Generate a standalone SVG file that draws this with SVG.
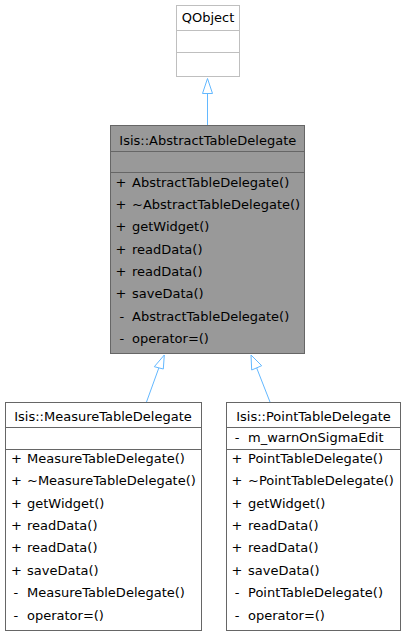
<svg xmlns="http://www.w3.org/2000/svg" width="406" height="636" viewBox="0 0 406 636">
<defs>
<style>
text{font-family:"DejaVu Sans",sans-serif;font-size:13px;fill:#000}
.t{text-anchor:middle}
.box{fill:#fff;stroke:#666;stroke-width:1}
.e{fill:none;stroke:#63b8ff;stroke-width:1}
.ah{fill:#fff;stroke:#63b8ff;stroke-width:1}
</style>
</defs>
<g id="edges">
<line class="e" x1="207.5" y1="93" x2="207.5" y2="125.5"/>
<polygon class="ah" points="207.5,78.5 202.5,93.5 212.5,93.5"/>
<line class="e" x1="146.5" y1="402" x2="158.8" y2="368"/>
<polygon class="ah" points="164.3,355 154.3,366.7 163.3,369"/>
<line class="e" x1="270" y1="402" x2="256.7" y2="368"/>
<polygon class="ah" points="251,355 251.7,370 261.7,365.7"/>
</g>
<g id="QObject">
<rect x="176.5" y="5.5" width="63" height="71" fill="#fff" stroke="#bfbfbf"/>
<line x1="176.5" y1="30.5" x2="239.5" y2="30.5" stroke="#bfbfbf"/>
<line x1="176.5" y1="52.5" x2="239.5" y2="52.5" stroke="#bfbfbf"/>
<text class="t" x="208" y="22">QObject</text>
</g>
<g id="AbstractTableDelegate">
<rect x="110.5" y="125.5" width="194" height="228" fill="#999" stroke="#666"/>
<line x1="110.5" y1="151.5" x2="304.5" y2="151.5" stroke="#666"/>
<line x1="110.5" y1="172.5" x2="304.5" y2="172.5" stroke="#666"/>
<text class="t" x="207.8" y="145">Isis::AbstractTableDelegate</text>
<text x="115.5" y="187">+</text><text x="132" y="187">AbstractTableDelegate()</text>
<text x="115.5" y="209">+</text><text x="132" y="209">~AbstractTableDelegate()</text>
<text x="115.5" y="231">+</text><text x="132" y="231">getWidget()</text>
<text x="115.5" y="254">+</text><text x="132" y="254">readData()</text>
<text x="115.5" y="276">+</text><text x="132" y="276">readData()</text>
<text x="115.5" y="298">+</text><text x="132" y="298">saveData()</text>
<text x="119.5" y="321">-</text><text x="132" y="321">AbstractTableDelegate()</text>
<text x="119.5" y="343">-</text><text x="132" y="343">operator=()</text>
</g>
<g id="MeasureTableDelegate">
<rect class="box" x="5.5" y="402.5" width="196" height="228"/>
<line x1="5.5" y1="427.5" x2="201.5" y2="427.5" stroke="#666"/>
<line x1="5.5" y1="449.5" x2="201.5" y2="449.5" stroke="#666"/>
<text class="t" x="103" y="421">Isis::MeasureTableDelegate</text>
<text x="11" y="463">+</text><text x="27" y="463">MeasureTableDelegate()</text>
<text x="11" y="485">+</text><text x="27" y="485">~MeasureTableDelegate()</text>
<text x="11" y="508">+</text><text x="27" y="508">getWidget()</text>
<text x="11" y="530">+</text><text x="27" y="530">readData()</text>
<text x="11" y="552">+</text><text x="27" y="552">readData()</text>
<text x="11" y="575">+</text><text x="27" y="575">saveData()</text>
<text x="13.5" y="597">-</text><text x="27" y="597">MeasureTableDelegate()</text>
<text x="13.5" y="620">-</text><text x="27" y="620">operator=()</text>
</g>
<g id="PointTableDelegate">
<rect class="box" x="226.5" y="402.5" width="174" height="228"/>
<line x1="226.5" y1="427.5" x2="400.5" y2="427.5" stroke="#666"/>
<line x1="226.5" y1="449.5" x2="400.5" y2="449.5" stroke="#666"/>
<text class="t" x="313.5" y="421">Isis::PointTableDelegate</text>
<text x="234.8" y="442">-</text><text x="248" y="442">m_warnOnSigmaEdit</text>
<text x="231.4" y="463">+</text><text x="248" y="463">PointTableDelegate()</text>
<text x="231.4" y="485">+</text><text x="248" y="485">~PointTableDelegate()</text>
<text x="231.4" y="508">+</text><text x="248" y="508">getWidget()</text>
<text x="231.4" y="530">+</text><text x="248" y="530">readData()</text>
<text x="231.4" y="552">+</text><text x="248" y="552">readData()</text>
<text x="231.4" y="575">+</text><text x="248" y="575">saveData()</text>
<text x="234.8" y="597">-</text><text x="248" y="597">PointTableDelegate()</text>
<text x="234.8" y="620">-</text><text x="248" y="620">operator=()</text>
</g>
</svg>
